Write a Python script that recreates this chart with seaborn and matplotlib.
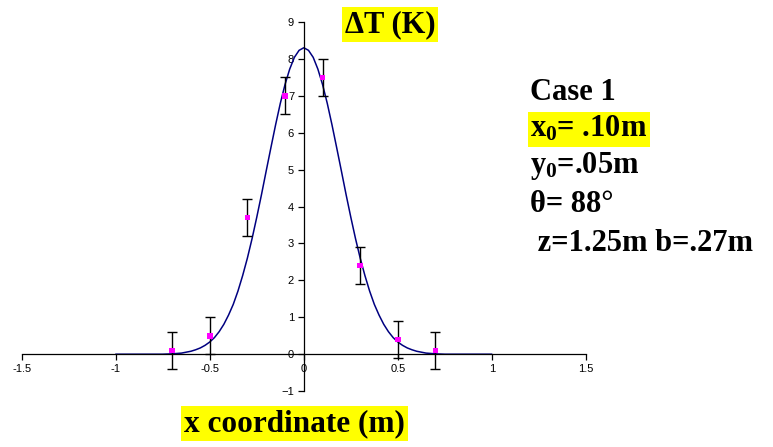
import numpy as np
import pandas as pd
import matplotlib
matplotlib.use("Agg")
import matplotlib.pyplot as plt
import seaborn as sns

# measured points (x, dT) and their error half-widths
meas_x = [-0.7, -0.5, -0.3, -0.1, 0.1, 0.3, 0.5, 0.7]
meas_dt = [0.1, 0.5, 3.7, 7.0, 7.5, 2.4, 0.4, 0.1]
meas_err = [0.5, 0.5, 0.5, 0.5, 0.5, 0.5, 0.5, 0.5]

# fitted curve (symmetric about x = 0)
curve_half_x = [0.0, 0.025, 0.05, 0.075, 0.1, 0.125, 0.15, 0.175, 0.2, 0.225,
                0.25, 0.275, 0.3, 0.325, 0.35, 0.375, 0.4, 0.425, 0.45, 0.475,
                0.5, 0.525, 0.55, 0.575, 0.6, 0.65, 0.7, 0.75, 0.8, 0.9, 1.0]
curve_half_dt = [8.30, 8.23, 8.04, 7.72, 7.30, 6.79, 6.21, 5.59, 4.96, 4.32,
                 3.71, 3.13, 2.60, 2.13, 1.71, 1.35, 1.06, 0.81, 0.61, 0.45,
                 0.33, 0.24, 0.17, 0.12, 0.08, 0.03, 0.01, 0.0, 0.0, 0.0, 0.0]

x_ticks = [-1.5, -1, -0.5, 0, 0.5, 1, 1.5]
y_ticks = [-1, 0, 1, 2, 3, 4, 5, 6, 7, 8, 9]

info_lines = ["Case 1", r"$\mathbf{x_0}$= .10m", r"$\mathbf{y_0}$=.05m",
              "θ= 88°", " z=1.25m b=.27m"]

sns.set_style("white")
plt.rcParams["font.family"] = ["Liberation Sans", "DejaVu Sans"]
plt.rcParams["text.color"] = "black"
plt.rcParams["xtick.color"] = "black"
plt.rcParams["ytick.color"] = "black"
plt.rcParams["mathtext.fontset"] = "custom"
plt.rcParams["mathtext.bf"] = "Liberation Serif:bold"
plt.rcParams["mathtext.rm"] = "Liberation Serif:bold"

fig = plt.figure(figsize=(7.73, 4.47), dpi=100)
ax = fig.add_axes([0.028, 0.125, 0.730, 0.826])

cx = [-v for v in curve_half_x[:0:-1]] + curve_half_x
cy = curve_half_dt[:0:-1] + curve_half_dt
curve = pd.DataFrame({"x": cx, "dt": cy})
meas = pd.DataFrame({"x": meas_x, "dt": meas_dt})

sns.lineplot(data=curve, x="x", y="dt", ax=ax, color="#000080", lw=1.1,
             sort=False)
ax.errorbar(meas_x, meas_dt, yerr=meas_err, fmt="none", ecolor="black",
            elinewidth=1, capsize=3.5, capthick=1, zorder=3)
sns.scatterplot(data=meas, x="x", y="dt", ax=ax, color="#FF00FF", marker="s",
                s=16, edgecolor="none", zorder=4)

ax.set_xlim(-1.5, 1.5)
ax.set_ylim(-1, 9)
ax.spines["left"].set_position(("data", 0))
ax.spines["bottom"].set_position(("data", 0))
ax.spines["right"].set_visible(False)
ax.spines["top"].set_visible(False)
for s in ("left", "bottom"):
    ax.spines[s].set_color("black")
    ax.spines[s].set_linewidth(0.9)
ax.set_xticks(x_ticks)
ax.set_xticklabels(["-1.5", "-1", "-0.5", "0", "0.5", "1", "1.5"])
ax.set_yticks(y_ticks)
ax.tick_params(axis="both", direction="out", length=4, width=0.9, color="black",
               labelcolor="black", labelsize=8, pad=3, left=True, bottom=True)
ax.set_xlabel("")
ax.set_ylabel("")
ax.patch.set_alpha(0)

serif = ["Liberation Serif", "DejaVu Serif"]
yellow = dict(facecolor="#FFFF00", edgecolor="none", pad=2)
fig.text(0.505, 0.945, "ΔT (K)", family=serif, weight="bold", fontsize=22,
         ha="center", va="center", bbox=yellow, color="black")
fig.text(0.381, 0.053, "x coordinate (m)", family=serif, weight="bold",
         fontsize=22.5, ha="center", va="center", bbox=yellow, color="black")

baselines = [0.776, 0.694, 0.613, 0.526, 0.438]
for i, (line, yb) in enumerate(zip(info_lines, baselines)):
    fig.text(0.686, yb, line, family=serif, weight="bold", fontsize=22,
             ha="left", va="baseline", color="black",
             bbox=yellow if i == 1 else None)

fig.savefig("out.png", dpi=100)
